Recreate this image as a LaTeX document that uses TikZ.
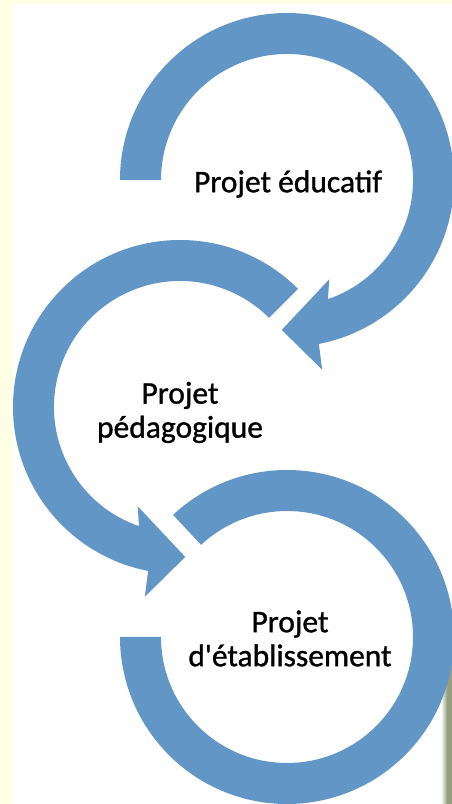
\documentclass[tikz,border=0pt]{standalone}
\usepackage{fontspec}
\setmainfont{Carlito}[FakeBold=1]
\usetikzlibrary{calc}
\definecolor{ringblue}{RGB}{97,150,198}
\definecolor{paper}{RGB}{255,255,230}
\definecolor{edgegray}{RGB}{150,160,128}

\begin{document}
\begin{tikzpicture}[x=1pt,y=1pt,
  ringtext/.style={font=\fontsize{31.5}{34}\selectfont,align=center,text=black,inner sep=0pt}]

\useasboundingbox (0,0) rectangle (452,804);
\fill[color=paper] (0,0) rectangle (452,804);
\fill[color=white] (13,0) rectangle (452,800);
\shade[left color=white,right color=edgegray] (441,0) rectangle (447,150);
\fill[color=edgegray] (447,0) rectangle (452,150);

\coordinate (c1) at (287,624);
\coordinate (c2) at (180,397);
\coordinate (c3) at (287,167);

\def\ro{167}
\def\ri{126}

\fill[color=ringblue] ($(c1)+(180:\ro)$) arc[start angle=180,end angle=-79,radius=\ro]
  -- ($(c1)+(-79.5:193)$) -- ($(c1)+(-92:150)$) -- ($(c1)+(-67:108)$)
  -- ($(c1)+(-71:\ri)$) arc[start angle=-71,end angle=180,radius=\ri] -- cycle;

\fill[color=ringblue] ($(c2)+(45:\ro)$) arc[start angle=45,end angle=259,radius=\ro]
  -- ($(c2)+(259.5:193)$) -- ($(c2)+(272:150)$) -- ($(c2)+(247:108)$)
  -- ($(c2)+(251:\ri)$) arc[start angle=251,end angle=45,radius=\ri] -- cycle;

\fill[color=ringblue] ($(c3)+(133:\ro)$) arc[start angle=133,end angle=-180,radius=\ro]
  -- ($(c3)+(180:\ri)$) arc[start angle=-180,end angle=133,radius=\ri] -- cycle;

\node[ringtext] (educ) at (288,620) {Projet éducatif};
\node[ringtext] (peda) at (180,391.5) {Projet\\pédagogique};
\node[ringtext] (etab) at (290,165.5) {Projet\\d\textquotesingle établissement};

\end{tikzpicture}
\end{document}
